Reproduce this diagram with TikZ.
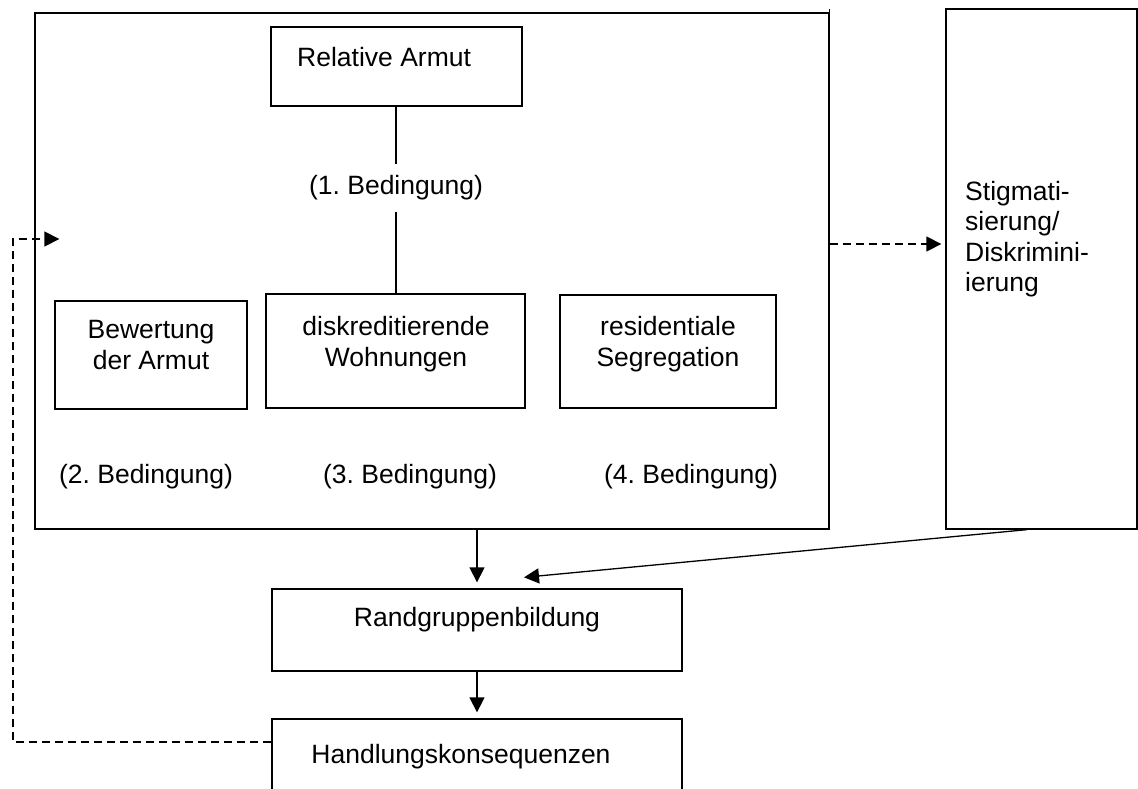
\documentclass[tikz,border=0pt]{standalone}
\usepackage{fontspec}
\setmainfont{Liberation Sans}
\usetikzlibrary{arrows.meta}
\frenchspacing
\begin{document}
\begin{tikzpicture}[x=1pt,y=-1pt,
  box/.style={draw,line width=1.3pt,inner sep=0pt},
  lbl/.style={font=\fontsize{26.5}{30.5}\selectfont,inner sep=0pt,align=center},
  conn/.style={line width=1.3pt},
  arr/.style={conn,-{Triangle[length=15pt,width=15pt]}},
  dsh/.style={arr,dash pattern=on 8pt off 5pt}]
\clip (0,0) rectangle (1138,789);
\fill[white] (0,0) rectangle (1138,789);
% boxes
\node[box,minimum width=794pt,minimum height=516pt] (outer) at (432,271) {};
\node[box,minimum width=251pt,minimum height=79pt] (relA) at (396.5,66.5) {};
\node[box,minimum width=192pt,minimum height=108pt] (bew) at (151,355) {};
\node[box,minimum width=259pt,minimum height=114pt] (disk) at (395.5,351) {};
\node[box,minimum width=216pt,minimum height=113pt] (res) at (668,351.5) {};
\node[box,minimum width=191pt,minimum height=520pt] (stig) at (1041.5,269) {};
\node[box,minimum width=410pt,minimum height=82pt] (rand) at (477,630) {};
\node[box,minimum width=410pt,minimum height=111pt] (hand) at (477,774.5) {};
\draw[conn] (outer.north east) -- ++(0,-3);
% texts
\node[lbl,anchor=west] (tRel) at (297,57) {Relative Armut};
\node[lbl,inner ysep=11pt] (b1) at (396,188) {(1. Bedingung)};
\node[lbl] (tBew) at (151,345) {Bewertung\\der Armut};
\node[lbl] (tDisk) at (396,344) {diskreditierende\\Wohnungen};
\node[lbl] (tRes) at (668,344) {residentiale\\Segregation};
\node[lbl] (b2) at (146,477) {(2. Bedingung)};
\node[lbl] (b3) at (410,477) {(3. Bedingung)};
\node[lbl] (b4) at (691,477) {(4. Bedingung)};
\node[lbl,align=left,anchor=north west] (tStig) at (965,181) {Stigmati-\\sierung/\\Diskrimini-\\ierung};
\node[lbl] (tRand) at (477,620) {Randgruppenbildung};
\node[lbl] (tHand) at (461,757) {Handlungskonsequenzen};
% connectors
\draw[conn] (relA.south -| b1) -- (b1.north);
\draw[conn] (b1.south) -- (disk.north -| b1);
\draw[arr] ([xshift=45pt]outer.south) -- ([yshift=6pt]rand.north);
\draw[arr] ([xshift=-14.5pt]stig.south) -- ([xshift=47pt,yshift=11pt]rand.north);
\draw[arr] (rand.south) -- ([yshift=6pt]hand.north);
\draw[dsh] ([yshift=27pt]outer.east) -- ([xshift=-4pt,yshift=25pt]stig.west);
\coordinate (lc) at (13,239);
\draw[dsh] ([yshift=32.5pt]hand.west) -| (lc) -- ([xshift=25pt,yshift=32pt]outer.west);
\end{tikzpicture}
\end{document}
